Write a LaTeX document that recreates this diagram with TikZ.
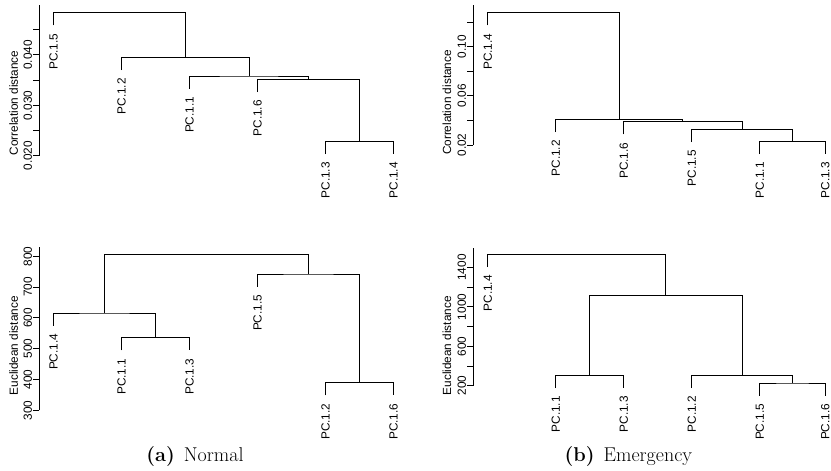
\documentclass[tikz,border=0pt]{standalone}
\usepackage{fontspec}
\newfontfamily\rfont{Liberation Sans}
\begin{document}
\begin{tikzpicture}[x=1pt,y=-1pt,
  tree/.style={line width=0.9pt,black},
  leaf/.style={rotate=90,anchor=east,inner sep=0pt,font=\rfont\fontsize{11.8}{13}\selectfont},
  ticklab/.style={rotate=90,anchor=south,inner sep=0pt,font=\rfont\fontsize{11.8}{13}\selectfont},
  axlab/.style={rotate=90,anchor=south,inner sep=0pt,font=\rfont\fontsize{11.8}{13}\selectfont},
  captext/.style={anchor=base,inner sep=0pt,font=\fontsize{20}{24}\selectfont}]
\useasboundingbox (0,0) rectangle (831,471);

% ---------------- Panel 1 (top left) ----------------
\draw[tree] (39.3,155.7) -- (39.3,5);
\foreach \yy in {155.7,130.5,105.3,80.1,54.9,29.7} \draw[tree] (33.3,\yy) -- (39.3,\yy);
\node[ticklab] (t1a) at (32.3,155.7) {0.020};
\node[ticklab] (t1b) at (32.3,105.3) {0.030};
\node[ticklab] (t1c) at (32.3,54.9) {0.040};
\node[axlab] (ax1) at (18.3,103) {Correlation distance};

\coordinate (p15) at (53.5,25.4);
\coordinate (p12) at (121.5,70.0);
\coordinate (p11) at (189.5,88.7);
\coordinate (p16) at (257.5,92.0);
\coordinate (p13) at (325.5,154);
\coordinate (p14) at (393.5,154);
\coordinate (mA) at (359.5,141.3);
\coordinate (mB) at (308.5,79.3);
\coordinate (mC) at (249,76);
\coordinate (mD) at (185.25,57.3);
\coordinate (mE) at (119.4,12.7);
\draw[tree] (p13) |- (mA) -| (p14);
\draw[tree] (p16) |- (mB) -| (mA);
\draw[tree] (p11) |- (mC) -| (mB);
\draw[tree] (p12) |- (mD) -| (mC);
\draw[tree] (p15) |- (mE) -| (mD);
\node[leaf] (l15) at (53.5,33.4) {PC.1.5};
\node[leaf] (l12) at (121.5,78) {PC.1.2};
\node[leaf] (l11) at (189.5,96.7) {PC.1.1};
\node[leaf] (l16) at (257.5,100) {PC.1.6};
\node[leaf] (l13) at (325.5,162) {PC.1.3};
\node[leaf] (l14) at (393.5,162) {PC.1.4};

% ---------------- Panel 2 (top right) ----------------
\draw[tree] (473.3,145) -- (473.3,5);
\foreach \yy in {145,120.4,95.8,71.2,46.6,22} \draw[tree] (467.3,\yy) -- (473.3,\yy);
\node[ticklab] (t2a) at (466.3,145) {0.02};
\node[ticklab] (t2b) at (466.3,95.8) {0.06};
\node[ticklab] (t2c) at (466.3,46.6) {0.10};
\node[axlab] (ax2) at (451.5,102.5) {Correlation distance};

\coordinate (q14) at (487.7,25.4);
\coordinate (q12) at (555.7,132.0);
\coordinate (q16) at (623.7,134.4);
\coordinate (q15) at (691.7,142.0);
\coordinate (q11) at (759.7,154);
\coordinate (q13) at (825.4,154);
\coordinate (nA) at (792.6,141.3);
\coordinate (nB) at (742.1,129.3);
\coordinate (nC) at (682.9,121.7);
\coordinate (nD) at (619.3,119.3);
\coordinate (nE) at (553.5,12.7);
\draw[tree] (q11) |- (nA) -| (q13);
\draw[tree] (q15) |- (nB) -| (nA);
\draw[tree] (q16) |- (nC) -| (nB);
\draw[tree] (q12) |- (nD) -| (nC);
\draw[tree] (q14) |- (nE) -| (nD);
\node[leaf] (k14) at (487.7,33.4) {PC.1.4};
\node[leaf] (k12) at (555.7,140) {PC.1.2};
\node[leaf] (k16) at (623.7,142.4) {PC.1.6};
\node[leaf] (k15) at (691.7,150) {PC.1.5};
\node[leaf] (k11) at (759.7,162) {PC.1.1};
\node[leaf] (k13) at (825.4,162) {PC.1.3};

% ---------------- Panel 3 (bottom left) ----------------
\draw[tree] (39.3,410.3) -- (39.3,247.3);
\foreach \yy in {410.3,379.5,348.7,317.9,287.1,256.3} \draw[tree] (33.3,\yy) -- (39.3,\yy);
\node[ticklab] (t3a) at (32.3,410.3) {300};
\node[ticklab] (t3b) at (32.3,379.5) {400};
\node[ticklab] (t3c) at (32.3,348.7) {500};
\node[ticklab] (t3d) at (32.3,317.9) {600};
\node[ticklab] (t3e) at (32.3,287.1) {700};
\node[ticklab] (t3f) at (32.3,256.3) {800};
\node[axlab] (ax3) at (18.3,345.8) {Euclidean distance};

\coordinate (r14) at (53.5,325.7);
\coordinate (r11) at (121.5,350.4);
\coordinate (r13) at (189.5,350.4);
\coordinate (r15) at (257.5,286.7);
\coordinate (r12) at (325.5,395.4);
\coordinate (r16) at (393.5,395.4);
\coordinate (sA) at (155.5,337.7);
\coordinate (sB) at (104.5,313);
\coordinate (sC) at (359.5,382.7);
\coordinate (sD) at (308.5,274);
\coordinate (sE) at (206.5,254.3);
\draw[tree] (r11) |- (sA) -| (r13);
\draw[tree] (r14) |- (sB) -| (sA);
\draw[tree] (r12) |- (sC) -| (r16);
\draw[tree] (r15) |- (sD) -| (sC);
\draw[tree] (sB) |- (sE) -| (sD);
\node[leaf] (j14) at (53.5,333.7) {PC.1.4};
\node[leaf] (j11) at (121.5,358.4) {PC.1.1};
\node[leaf] (j13) at (189.5,358.4) {PC.1.3};
\node[leaf] (j15) at (257.5,294.7) {PC.1.5};
\node[leaf] (j12) at (325.5,403.4) {PC.1.2};
\node[leaf] (j16) at (393.5,403.4) {PC.1.6};

% ---------------- Panel 4 (bottom right) ----------------
\draw[tree] (473.3,385.7) -- (473.3,247.7);
\foreach \yy in {385.7,366,346.3,326.6,306.9,287.2,267.5} \draw[tree] (467.3,\yy) -- (473.3,\yy);
\node[ticklab] (t4a) at (466.3,385.7) {200};
\node[ticklab] (t4b) at (466.3,346.3) {600};
\node[ticklab] (t4c) at (466.3,306.9) {1000};
\node[ticklab] (t4d) at (466.3,267.5) {1400};
\node[axlab] (ax4) at (451.5,345.8) {Euclidean distance};

\coordinate (v14) at (487.7,267);
\coordinate (v11) at (555.7,388);
\coordinate (v13) at (623.7,388);
\coordinate (v12) at (691.7,388);
\coordinate (v15) at (759.7,395.7);
\coordinate (v16) at (825.4,395.7);
\coordinate (uA) at (589.7,375.3);
\coordinate (uB) at (792.6,383);
\coordinate (uC) at (742.1,375.3);
\coordinate (uD) at (665.9,295.7);
\coordinate (uE) at (577,254.3);
\draw[tree] (v11) |- (uA) -| (v13);
\draw[tree] (v15) |- (uB) -| (v16);
\draw[tree] (v12) |- (uC) -| (uB);
\draw[tree] (uA) |- (uD) -| (uC);
\draw[tree] (v14) |- (uE) -| (uD);
\node[leaf] (w14) at (487.7,275) {PC.1.4};
\node[leaf] (w11) at (555.7,396) {PC.1.1};
\node[leaf] (w13) at (623.7,396) {PC.1.3};
\node[leaf] (w12) at (691.7,396) {PC.1.2};
\node[leaf] (w15) at (759.7,403.7) {PC.1.5};
\node[leaf] (w16) at (825.4,403.7) {PC.1.6};

% ---------------- Captions ----------------
\node[captext] (capa) at (195,461.5) {\textbf{(a)}\hspace{0.45em}Normal};
\node[captext] (capb) at (628.3,461.5) {\textbf{(b)}\hspace{0.45em}Emergency};
\end{tikzpicture}
\end{document}
